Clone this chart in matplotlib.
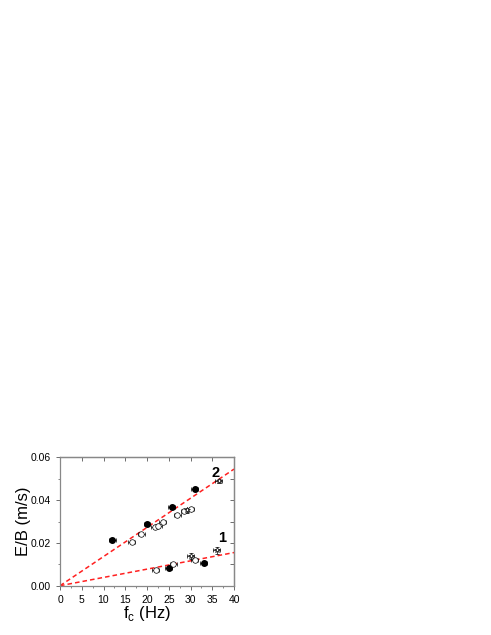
import numpy as np
import matplotlib.pyplot as plt

plt.rcParams['font.family'] = ['Liberation Sans', 'DejaVu Sans']

# serie 2 (haut)
f2_plein = [12.0, 20.0, 25.7, 31.0]
eb2_plein = [0.0215, 0.0290, 0.0370, 0.0453]
f2_vide = [16.5, 18.7, 21.8, 22.6, 23.6, 27.0, 28.6, 30.0]
eb2_vide = [0.0205, 0.0242, 0.0275, 0.0277, 0.0300, 0.0330, 0.0348, 0.0358]
f2_etoile = [29.2, 36.5]
eb2_etoile = [0.0352, 0.0488]

# serie 1 (bas)
f1_plein = [25.0, 33.0]
eb1_plein = [0.0085, 0.0105]
f1_vide = [22.0, 26.0, 31.0]
eb1_vide = [0.0075, 0.0100, 0.0118]
f1_etoile = [30.0, 36.0]
eb1_etoile = [0.0140, 0.0165]

pente2 = 0.0545 / 40
pente1 = 0.0155 / 40

fig = plt.figure(figsize=(4.91, 6.35), dpi=100)
ax = fig.add_axes([0.1222, 0.0776, 0.3544, 0.2022])

x = np.array([0, 40])
ax.plot(x, pente2 * x, '--', color='#ff2020', lw=1.1, dashes=(3, 2))
ax.plot(x, pente1 * x, '--', color='#ff2020', lw=1.1, dashes=(3, 2))

kw = dict(fmt='o', ms=4, ecolor='k', elinewidth=0.5, capsize=1.2, capthick=0.5)
ax.errorbar(f2_plein, eb2_plein, xerr=0.8, mfc='k', mec='k', **kw)
ax.errorbar(f1_plein, eb1_plein, xerr=0.8, mfc='k', mec='k', **kw)
ax.errorbar(f2_vide, eb2_vide, xerr=0.8, mfc='white', mec='k', mew=0.5, **kw)
ax.errorbar(f1_vide, eb1_vide, xerr=0.8, mfc='white', mec='k', mew=0.5, **kw)
kw_e = dict(fmt='*', ms=4, ecolor='k', elinewidth=0.5, capsize=1.2, capthick=0.5)
ax.errorbar(f2_etoile, eb2_etoile, xerr=0.8, yerr=0.001, mfc='white', mec='k', mew=0.5, **kw_e)
ax.errorbar(f1_etoile, eb1_etoile, xerr=0.8, yerr=0.0015, mfc='white', mec='k', mew=0.5, **kw_e)

ax.text(34.8, 0.0510, '2', fontsize=10.5, fontweight='bold')
ax.text(36.3, 0.0205, '1', fontsize=10.5, fontweight='bold')

ax.set_xlim(0, 40)
ax.set_ylim(0, 0.06)
ax.set_xticks(np.arange(0, 41, 5))
ax.set_yticks([0, 0.02, 0.04, 0.06])
ax.set_yticklabels(['0.00', '0.02', '0.04', '0.06'])
ax.set_xticks(np.arange(0, 41, 2.5), minor=True)
ax.set_yticks(np.arange(0, 0.061, 0.01), minor=True)
ax.tick_params(which='both', direction='out', labelsize=7.5, colors='#555555', labelcolor='k')
ax.tick_params(which='major', length=3, width=0.6)
ax.tick_params(which='minor', length=1.5, width=0.5)
# ticks interieurs en haut et a droite
ax2 = ax.secondary_xaxis('top')
ax2.set_xticks(np.arange(0, 41, 5))
ax2.tick_params(direction='in', length=3, width=0.6, labeltop=False, colors='#555555')
ax2.set_xticklabels([])
ax3 = ax.secondary_yaxis('right')
ax3.set_yticks(np.arange(0, 0.061, 0.01))
ax3.tick_params(direction='in', length=3, width=0.6, colors='#555555')
ax3.set_yticklabels([])
for a in (ax, ax2, ax3):
    for s in a.spines.values():
        s.set_linewidth(0.9)
        s.set_color('#888888')

ax.set_xlabel('f$_\\mathregular{c}$ (Hz)', fontsize=12)
ax.set_ylabel('E/B (m/s)', fontsize=12)
ax.xaxis.set_label_coords(0.5, -0.14)
ax.yaxis.set_label_coords(-0.165, 0.5)

fig.savefig('out.png', dpi=100)
